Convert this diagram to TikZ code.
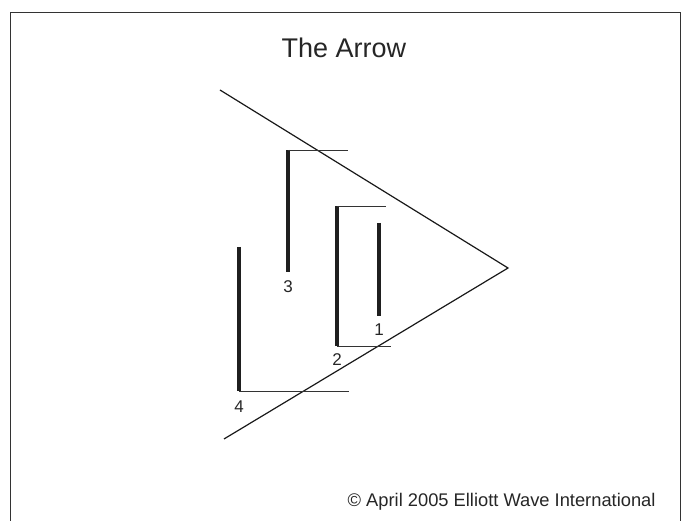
\documentclass[tikz,border=0pt]{standalone}
\usepackage{fontspec}
\setmainfont{Liberation Sans}
\usepackage{tikz}
\usetikzlibrary{positioning, calc}

\begin{document}
\begin{tikzpicture}[
x=1pt, y=-1pt,
thin line/.style={draw=black!80, line width=0.8pt},
side/.style={draw=black!90, line width=1.2pt},
wave/.style={draw=black!88, line width=4pt},
num/.style={font=\fontsize{17}{17}\selectfont, text=black!85, inner sep=0pt}
]
\useasboundingbox (0,0) rectangle (686,521);
% frame, open at the bottom
\draw[thin line] (10,530) -- (10,12) -- (680,12) -- (680,530);
\node[font=\fontsize{27}{27}\selectfont, text=black!85] (title) at (344,48) {The Arrow};
\node[font=\fontsize{18.3}{18}\selectfont, text=black!85, anchor=east] (copy) at (659,502) {\textcopyright\ April 2005 Elliott Wave International};

% triangle
\coordinate (ta) at (220,90);
\coordinate (tip) at (508,268);
\coordinate (tb) at (224,439);
\draw[side] (ta) -- (tip) -- (tb);

% waves
\coordinate (w1a) at (379,223); \coordinate (w1b) at (379,316);
\coordinate (w2a) at (337,206); \coordinate (w2b) at (337,346);
\coordinate (w3a) at (288,150); \coordinate (w3b) at (288,272);
\coordinate (w4a) at (239,247); \coordinate (w4b) at (239,391);
\draw[wave] (w1a) -- (w1b);
\draw[wave] (w2a) -- (w2b);
\draw[wave] (w3a) -- (w3b);
\draw[wave] (w4a) -- (w4b);

% ticks
\coordinate (h3) at (348,150);
\coordinate (h2a) at (386,206);
\coordinate (h2b) at (391,346);
\coordinate (h4) at (349,391);
\draw[thin line] (w3a) -- (h3);
\draw[thin line] (w2a) -- (h2a);
\draw[thin line] (w2b) -- (h2b);
\draw[thin line] (w4b) -- (h4);

% labels
\node[num] (n1) at (379,330) {1};
\node[num] (n2) at (337,360) {2};
\node[num] (n3) at (288,287) {3};
\node[num] (n4) at (239,407) {4};
\end{tikzpicture}
\end{document}
